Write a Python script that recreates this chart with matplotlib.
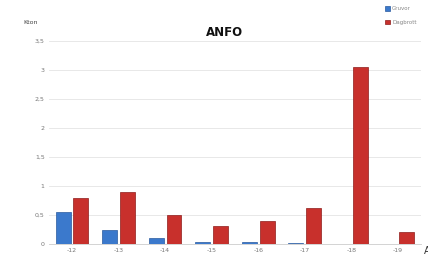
import matplotlib
matplotlib.use("Agg")
import matplotlib.pyplot as plt
import numpy as np

categories = ["-12", "-13", "-14", "-15", "-16", "-17", "-18", "-19"]
series_names = ["Gruvor", "Dagbrott"]
blue_vals = [0.55, 0.24, 0.10, 0.04, 0.03, 0.01, 0.0, 0.0]
red_vals = [0.80, 0.90, 0.50, 0.30, 0.40, 0.62, 3.05, 0.20]
yticks = [0, 0.5, 1, 1.5, 2, 2.5, 3, 3.5]
ytick_labels = ["0", "0,5", "1", "1,5", "2", "2,5", "3", "3,5"]

fig = plt.figure(figsize=(4.28, 2.6), dpi=100)
ax = fig.add_axes([0.114, 0.062, 0.870, 0.780])

x = np.arange(len(categories))
w = 0.32
off = 0.19
ax.bar(x - off, blue_vals, w, color="#3b79cc", edgecolor="#2a5a9e", linewidth=0.5, label=series_names[0], zorder=3)
ax.bar(x + off, red_vals, w, color="#c8302c", edgecolor="#8e1c1a", linewidth=0.5, label=series_names[1], zorder=3)

ax.set_xlim(-0.5, len(categories) - 0.5)
ax.set_ylim(0, 3.5)
ax.set_yticks(yticks)
ax.set_yticklabels(ytick_labels)
ax.set_xticks(x)
ax.set_xticklabels(categories)
ax.tick_params(axis="both", length=0, labelsize=4.5, colors="#777777", pad=3)
ax.grid(axis="y", color="#e4e4e4", linewidth=0.6, zorder=0)
for s in ["top", "right", "left"]:
    ax.spines[s].set_visible(False)
ax.spines["bottom"].set_color("#cccccc")
ax.spines["bottom"].set_linewidth(0.6)

fig.text(0.525, 0.875, "ANFO", ha="center", va="center", fontsize=8.5, fontweight="bold", color="#111111")
fig.text(0.072, 0.915, "Kton", ha="center", va="center", fontsize=4.5, color="#444444")
fig.text(0.99, 0.035, "Anno", ha="left", va="center", fontsize=7, color="#333333")

leg = fig.legend(loc="upper right", bbox_to_anchor=(0.985, 0.995), fontsize=4, frameon=False,
                 handlelength=0.8, handleheight=0.8, labelspacing=1.6, handletextpad=0.4)
for t in leg.get_texts():
    t.set_color("#888888")

fig.savefig("out.png", dpi=100)
